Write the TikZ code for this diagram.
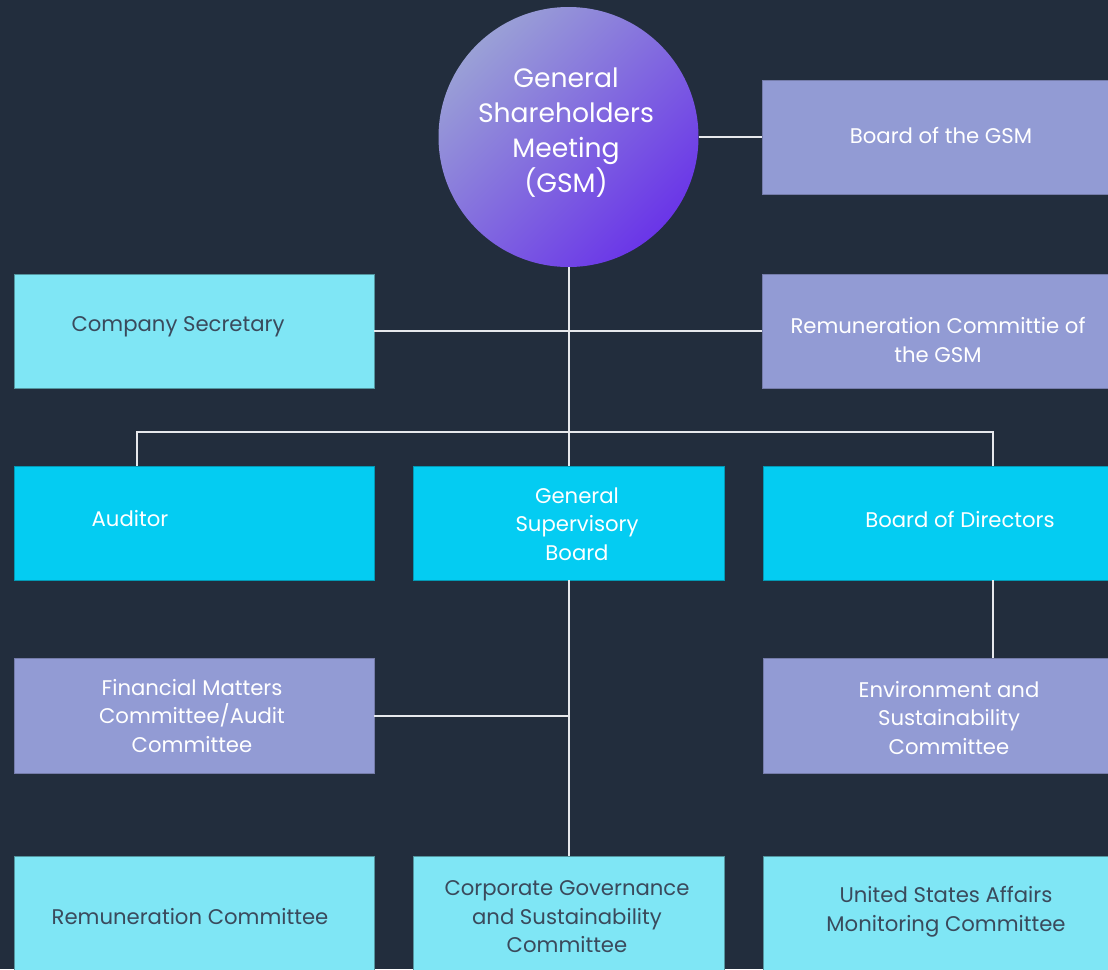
\documentclass[tikz,border=0pt]{standalone}
\usepackage{fontspec}
\setmainfont{Poppins}
\definecolor{bg}{HTML}{222D3D}
\definecolor{lav}{HTML}{929BD4}
\definecolor{lcyan}{HTML}{7FE6F5}
\definecolor{bcyan}{HTML}{04CCF2}
\definecolor{dtext}{HTML}{3A4A5C}
\definecolor{wire}{HTML}{E6E8EC}
\definecolor{purp}{HTML}{6A35E8}
\definecolor{plight}{HTML}{9AA0D6}
\begin{document}
\begin{tikzpicture}[x=1pt,y=-1pt,
  box/.style={rectangle,inner sep=0pt,line width=0.6pt},
  lavbox/.style={box,fill=lav,draw=lav!80!black},
  lcbox/.style={box,fill=lcyan,draw=lcyan!65!black},
  bcbox/.style={box,fill=bcyan,draw=bcyan!75!black},
  wtxt/.style={text=white,font=\fontsize{21.2}{28.5}\selectfont,align=center,inner sep=0pt},
  dtxt/.style={text=dtext,font=\fontsize{21.2}{28.5}\selectfont,align=center,inner sep=0pt},
  wireline/.style={draw=wire,line width=2pt}]
\useasboundingbox (0,0) rectangle (1108,969);
\fill[bg] (0,0) rectangle (1108,969);
% boxes
\node[lavbox,minimum width=346pt,minimum height=114pt] (bgsm) at (935,137) {};
\node[lcbox,minimum width=360pt,minimum height=114pt] (cs) at (194,331) {};
\node[lavbox,minimum width=346pt,minimum height=114pt] (rgsm) at (935,331) {};
\node[bcbox,minimum width=360pt,minimum height=114pt] (aud) at (194,523) {};
\node[bcbox,minimum width=311pt,minimum height=114pt] (gsb) at (568.5,523) {};
\node[bcbox,minimum width=345pt,minimum height=114pt] (bod) at (935.5,523) {};
\node[lavbox,minimum width=360pt,minimum height=115pt] (fin) at (194,715.5) {};
\node[lavbox,minimum width=345pt,minimum height=115pt] (env) at (935.5,715.5) {};
\node[lcbox,minimum width=360pt,minimum height=130pt] (rem) at (194,921) {};
\node[lcbox,minimum width=311pt,minimum height=130pt] (cgs) at (568.5,921) {};
\node[lcbox,minimum width=345pt,minimum height=130pt] (usa) at (935.5,921) {};
% circle
\node[circle,minimum size=260pt,inner sep=0pt,top color=plight,bottom color=purp,shading angle=45] (gsm) at (568.5,137) {};
\node[wtxt,font=\fontsize{26.6}{35}\selectfont] (gsmt) at (566,133) {General\\Shareholders\\Meeting\\(GSM)};
% connectors
\coordinate (ja) at (137,432);
\coordinate (jb) at (993,432);
\draw[wireline] (gsm.east) -- (bgsm.west);
\draw[wireline] (gsm.south) -- (gsb.north);
\draw[wireline] (cs.east) -- (rgsm.west);
\draw[wireline] (aud.north -| ja) -- (ja) -- (jb) -- (bod.north -| jb);
\draw[wireline] (gsb.south) -- (cgs.north);
\draw[wireline] (fin.east) -- (fin.east -| gsb.south);
\draw[wireline] (bod.south -| jb) -- (env.north -| jb);
% texts
\node[wtxt] (t1) at (941,135) {Board of the GSM};
\node[dtxt] (t2) at (178,327) {Company Secretary};
\node[wtxt] (t3) at (938,340) {Remuneration Committie of\\the GSM};
\node[wtxt] (t4) at (130,519) {Auditor};
\node[wtxt] (t5) at (577,524) {General\\Supervisory\\Board};
\node[wtxt] (t6) at (960,519) {Board of Directors};
\node[wtxt] (t7) at (192,716) {Financial Matters\\Committee/Audit\\Committee};
\node[wtxt] (t8) at (949,718) {Environment and\\Sustainability\\Committee};
\node[dtxt] (t9) at (190,917) {Remuneration Committee};
\node[dtxt] (t10) at (567,917) {Corporate Governance\\and Sustainability\\Committee};
\node[dtxt] (t11) at (946,912) {United States Affairs\\Monitoring Committee};
\end{tikzpicture}
\end{document}
